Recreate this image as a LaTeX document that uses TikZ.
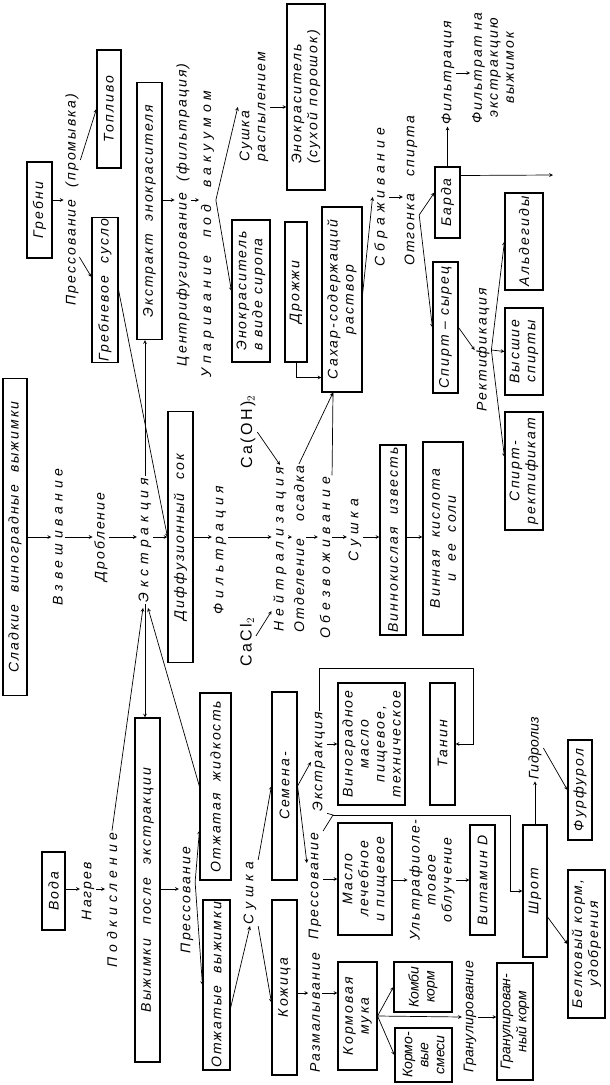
\documentclass[tikz,border=0pt]{standalone}
\usepackage{fontspec}
\setmainfont{Liberation Sans}[LetterSpace=15]
\usetikzlibrary{calc}

\begin{document}
\begin{tikzpicture}[x=1pt,y=-1pt,->,>=stealth,line width=0.7pt,
    font=\fontsize{14}{16}\selectfont\itshape,
    box/.style={draw,-,rotate=90,line width=1.1pt,inner sep=1pt,align=center},
    lbl/.style={rotate=90,inner sep=1.5pt,align=center},
    wide/.style={lbl,font=\fontsize{14}{16}\selectfont\itshape\addfontfeatures{LetterSpace=35}},
    narrow/.style={lbl,font=\fontsize{14}{16}\selectfont\itshape\addfontfeatures{LetterSpace=3}},
    tight/.style={font=\fontsize{14}{16}\selectfont\itshape\addfontfeatures{LetterSpace=0}},
    chem/.style={lbl,font=\fontsize{16}{18}\selectfont}]

  \useasboundingbox (0,0) rectangle (610,1085);

  \node[box,minimum width=96pt,minimum height=25pt] (grebni) at (39.5,210) {Гребни};
  \node[lbl] (pressprom) at (72,200) {Прессование\ \ (промывка)};
  \node[box,minimum width=118pt,minimum height=24pt] (toplivo) at (109,109) {Топливо};
  \node[box,minimum width=145pt,minimum height=26pt] (grsuslo) at (105,290) {Гребневое\ \ сусло};
  \node[box,minimum width=257pt,minimum height=25pt] (ekstrakt) at (149.5,211) {Экстракт\ \ энокрасителя};
  \node[lbl] (centrif) at (183,215) {Центрифугирование\ \ (фильтрация)};
  \node[wide] (uparivanie) at (207.5,234) {Упаривание\ \ под\ \ вакуумом};
  \node[lbl,align=left] (sushkaras) at (254,107) {Сушка\\распылением};
  \node[box,minimum width=186pt,minimum height=38pt,align=left] (poroshok) at (306,97) {Энокраситель\\(сухой порошок)};
  \node[box,minimum width=142pt,minimum height=38pt,align=left] (sirop) at (251,291) {Энокраситель\\в виде сиропа};
  \node[box,minimum width=140pt,minimum height=22pt] (drozhzhi) at (296,292) {Дрожжи};
  \node[box,minimum width=185pt,minimum height=40pt] (sahar) at (342,299.5) {Сахар-содержащий\\раствор};

  \node[box,minimum width=317pt,minimum height=24pt] (sladk) at (15,537) {Сладкие\ \ виноградные\ \ выжимки};
  \node[wide] (vzvesh) at (58,537) {Взвешивание};
  \node[lbl] (droblenie) at (101,537) {Дробление};
  \node[wide] (ekstrakciya) at (145,540) {Экстракция};
  \node[box,minimum width=251pt,minimum height=25pt] (diffsok) at (180.5,537) {Диффузионный\quad сок};
  \node[wide] (filtr) at (220,550) {Фильтрация};
  \node[wide] (neitr) at (280,549) {Нейтрализация};
  \node[lbl] (otdel) at (299,549) {Отделение\ \ \ осадка};
  \node[wide] (obezv) at (325,558) {Обезвоживание};
  \node[wide] (sushka) at (355,530) {Сушка};
  \node[chem] (caoh) at (248,432) {Ca(OH)$_2$};
  \node[chem] (cacl) at (247,642) {CaCl$_2$};
  \node[box,minimum width=190pt,minimum height=26pt] (izvest) at (393,540) {Виннокислая\ \ известь};
  \node[box,minimum width=193pt,minimum height=40pt] (kislota) at (443,538.5) {Винная\ \ кислота\\и\ \ ее\ \ соли};

  \node[wide] (sbrazh) at (381,197) {Сбраживание};
  \node[lbl] (otgonka) at (411,191) {Отгонка\ \ \ спирта};
  \node[box,minimum width=71pt,minimum height=25pt] (barda) at (447.5,202.5) {Барда};
  \node[lbl] (filtr2) at (448,73) {Фильтрация};
  \node[lbl] (filtrat) at (493,68) {Фильтрат на\\экстракцию\\выжимок};
  \node[box,minimum width=131pt,minimum height=25pt] (syrec) at (445.5,327.5) {Спирт -- сырец};
  \node[lbl] (rektif) at (483,350) {Ректификация};
  \node[box,minimum width=97pt,minimum height=38pt] (aldeg) at (524,241.5) {Альдегиды};
  \node[box,minimum width=87pt,minimum height=38pt] (vysshie) at (524,351.5) {Высшие\\спирты};
  \node[box,minimum width=118pt,minimum height=38pt] (rektifikat) at (524,471) {Спирт-\\ректификат};

  \node[box,minimum width=78pt,minimum height=23pt] (voda) at (53.5,891) {Вода};
  \node[lbl] (nagrev) at (88,891) {Нагрев};
  \node[wide] (podkisl) at (112,900) {Подкисление};
  \node[box,minimum width=344pt,minimum height=25pt] (vyzh) at (147.5,890) {Выжимки\quad после\quad экстракции};
  \node[lbl] (press1) at (187,900) {Прессование};
  \node[box,minimum width=187pt,minimum height=31pt] (zhidk) at (215.5,786.5) {Отжатая\ \ жидкость};
  \node[box,minimum width=170pt,minimum height=27pt] (otzhvyzh) at (216.5,985) {Отжатые\ \ выжимки};
  \node[wide] (sushka2) at (250,893) {Сушка};
  \node[box,minimum width=188pt,minimum height=25pt] (semena) at (284.5,786) {Семена-};
  \node[box,minimum width=175pt,minimum height=25pt] (kozhica) at (284.5,987.5) {Кожица};
  \node[lbl] (ekstr2) at (319,762) {Экстракция};
  \node[lbl] (press2) at (315,886) {Прессование};
  \node[lbl] (razmal) at (315,1013) {Размалывание};
  \node[box,minimum width=122pt,minimum height=67pt] (vinmaslo) at (371.5,744) {Виноградное\\масло\\пищевое,\\техническое};
  \node[box,minimum width=112pt,minimum height=54pt] (maslo) at (365,879) {Масло\\лечебное\\и пищевое};
  \node[box,minimum width=108pt,minimum height=39pt] (muka) at (357.5,1016) {Кормовая\\мука};
  \node[box,minimum width=122pt,minimum height=25pt] (tanin) at (442.5,744) {Танин};
  \node[lbl] (uv) at (432,880) {Ультрафиоле-\\товое\\облучение};
  \node[box,minimum width=110pt,minimum height=25pt] (vitamin) at (482.5,880) {Витамин D};
  \node[box,tight,minimum width=50pt,minimum height=58pt] (kombi) at (423,987) {Комби\\корм};
  \node[box,tight,minimum width=54pt,minimum height=57pt] (kormsmesi) at (423.5,1055) {Кормо-\\вые\\смеси};
  \node[narrow] (granulir) at (470,1017) {Гранулирование};
  \node[box,tight,minimum width=117pt,minimum height=36pt] (granul) at (515,1021.5) {Гранулирован-\\ный корм};
  \node[box,minimum width=132pt,minimum height=24pt] (shrot) at (535,891) {Шрот};
  \node[narrow] (gidroliz) at (535,748) {Гидролиз};
  \node[box,minimum width=100pt,minimum height=24pt] (furfurol) at (580,790) {Фурфурол};
  \node[box,minimum width=148pt,minimum height=37pt] (belk) at (586.5,944) {Белковый корм,\\удобрения};

  \coordinate (rowA) at (0,200);
  \coordinate (rowB) at (0,889);
  \coordinate (rowC) at (0,993);
  \coordinate (ax) at (0,537);
  \coordinate (sahin) at ($(sahar.west)+(-9,0)$);
  \coordinate (tanB) at (473,668);
  \coordinate (shrV) at (333,815);
  \coordinate (shrB) at (510,815);
  \coordinate (bardaout) at (553,175);
  \coordinate (otgV) at ($(otgonka.south)+(0,24)$);
  \coordinate (pressV) at ($(press1.south)+(0,-18)$);

  \draw (grebni.south |- rowA) -- (pressprom.north |- rowA);
  \draw ($(pressprom.south)+(0,-40)$) -- (toplivo.north);
  \draw ($(pressprom.south)+(-1,57)$) -- ($(grsuslo.north)+(0,-13)$);
  \draw (grsuslo.south) -- (diffsok.north);
  \draw (ekstrakciya.east) -- (ekstrakciya.east |- ekstrakt.west);
  \draw (ekstrakt.south |- rowA) -- (centrif.north |- rowA);
  \draw (centrif.south |- rowA) -- (uparivanie.north |- rowA);
  \draw (uparivanie.south |- rowA) -- (sushkaras.north);
  \draw (uparivanie.south |- rowA) -- (sirop.north);
  \draw (sushkaras.south) -- (sushkaras.south -| poroshok.north);
  \draw (drozhzhi.west) |- ($(sahar.north)+(0,78)$);
  \draw (otdel.east) -- (sahin);
  \draw[-] (obezv.south east) -- (sahin);
  \draw (caoh.south) -- (neitr.east);
  \draw ($(cacl.south)+(0,-6)$) -- ($(neitr.north west)+(0,-22)$);

  \draw (sladk.south |- ax) -- (vzvesh.north |- ax);
  \draw (vzvesh.south |- ax) -- (droblenie.north |- ax);
  \draw (droblenie.south |- ax) -- (ekstrakciya.north |- ax);
  \draw (ekstrakciya.south |- ax) -- (diffsok.north |- ax);
  \draw (diffsok.south |- ax) -- (filtr.north |- ax);
  \draw (filtr.south |- ax) -- (neitr.north |- ax);
  \draw (neitr.south |- ax) -- (otdel.north |- ax);
  \draw (otdel.south |- ax) -- (obezv.north |- ax);
  \draw (obezv.south |- ax) -- (sushka.north |- ax);
  \draw (sushka.south |- ax) -- (izvest.north |- ax);
  \draw (izvest.south |- ax) -- (kislota.north |- ax);

  \draw ($(sahar.south)+(0,-5)$) -- (sbrazh.north);
  \draw (sbrazh.south) -- (sbrazh.south -| otgonka.north);
  \draw (otgV) -- ($(barda.north)+(0,-10)$);
  \draw (otgV) -- (syrec.north);
  \draw (barda.east) -- (barda.east |- filtr2.west);
  \draw (filtr2.south) -- (filtr2.south -| filtrat.north);
  \draw ($(barda.south)+(0,-27)$) -- (bardaout);
  \draw (syrec.south) -- (rektif.north);
  \draw (rektif.south) -- (aldeg.north);
  \draw (rektif.south) -- (vysshie.north);
  \draw (rektif.south) -- ($(rektifikat.north)+(0,-14)$);

  \draw (ekstrakciya.west) -- (ekstrakciya.west |- vyzh.east);
  \draw (podkisl.east) -- ($(ekstrakciya.west)+(-2,4)$);
  \draw (zhidk.north) -- ($(ekstrakciya.west)+(3,4)$);
  \draw (voda.south |- rowB) -- (nagrev.north |- rowB);
  \draw (nagrev.south |- rowB) -- (podkisl.north |- rowB);
  \draw (vyzh.south |- rowB) -- (press1.north |- rowB);
  \draw (pressV) -- ($(zhidk.north)+(0,44)$);
  \draw (pressV) -- (otzhvyzh.north);
  \draw ($(otzhvyzh.south)+(0,23)$) -- (sushka2.west);
  \draw (sushka2.south east) -- (semena.north);
  \draw (sushka2.south west) -- ($(kozhica.north)+(0,15)$);
  \draw (kozhica.south |- rowC) -- (razmal.north |- rowC);
  \draw (razmal.south |- rowC) -- (muka.north |- rowC);
  \draw (semena.south) -- (ekstr2.north);
  \draw (semena.south) -- ($(press2.north)+(0,-23)$);
  \draw (ekstr2.south |- vinmaslo) -- (vinmaslo.north);
  \draw (press2.south |- maslo) -- (maslo.north);
  \draw (maslo.south |- uv) -- (uv.north);
  \draw (uv.south |- vitamin) -- (vitamin.north);
  \draw (ekstr2.east) |- (tanB) |- (tanin.south);
  \draw[-] (ekstr2.south west) -- (shrV) -- (press2.south east);
  \draw (shrV) -- (shrB) |- (shrot.north);

  \draw (muka.south) -- (kombi.north);
  \draw (muka.south) -- (kormsmesi.north);
  \draw (muka.south) -- (granulir.north);
  \draw (granulir.south) -- (granulir.south -| granul.north);
  \draw (shrot.east) -- (gidroliz.west);
  \draw (gidroliz.south) -- (furfurol.north);
  \draw ($(shrot.south)+(0,26)$) -- (belk.north);
\end{tikzpicture}
\end{document}
